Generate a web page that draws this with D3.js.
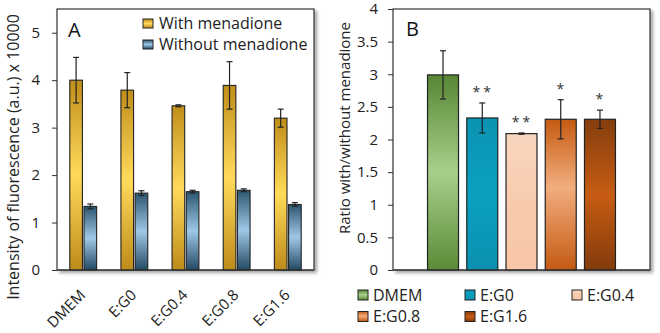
<!DOCTYPE html>
<html><head><meta charset="utf-8">
<script src="https://cdn.jsdelivr.net/npm/d3@7"></script>
<style>
html,body{margin:0;padding:0;background:#fff;}
svg{display:block;font-family:"Open Sans",sans-serif;}
</style></head>
<body><svg id="c" width="660" height="333"></svg>
<script>
// ---------- data ----------
const categories = ["DMEM","E:G0","E:G0.4","E:G0.8","E:G1.6"];
const seriesNames = ["With menadione","Without menadione"];
const withMenadione = [4.0, 3.79, 3.46, 3.89, 3.2];
const withMenadioneErr = [0.48, 0.37, 0.02, 0.5, 0.19];
const withoutMenadione = [1.34, 1.62, 1.65, 1.68, 1.38];
const withoutMenadioneErr = [0.05, 0.05, 0.03, 0.03, 0.04];
const ratio = [2.99, 2.33, 2.09, 2.31, 2.31];
const ratioErr = [0.37, 0.23, 0.01, 0.3, 0.14];
const significance = ["", "**", "**", "*", "*"];
const ticksA = [0,1,2,3,4,5];
const ticksB = [0,0.5,1,1.5,2,2.5,3,3.5,4];

const svg = d3.select("#c");
const defs = svg.append("defs");
function grad(id, stops){
  const g = defs.append("linearGradient").attr("id",id).attr("x1",0).attr("y1",0).attr("x2",0).attr("y2",1);
  stops.forEach(s=>g.append("stop").attr("offset",s[0]).attr("stop-color",s[1]));
}
grad("gGold",[[0,"#c08e1a"],[0.5,"#ffda5a"],[1,"#bd8b19"]]);
grad("gBlue",[[0,"#2c556f"],[0.5,"#9fc8e8"],[1,"#234a63"]]);
grad("gGreen",[[0,"#578634"],[0.5,"#a8d08c"],[1,"#5a8a37"]]);
grad("gTeal",[[0,"#0b93b3"],[0.5,"#0aa0c0"],[1,"#0b91b1"]]);
grad("gPeach",[[0,"#f9d6bf"],[0.5,"#f8cbad"],[1,"#f7c6a6"]]);
grad("gOrange",[[0,"#c55a11"],[0.45,"#f2ad7e"],[1,"#c45a12"]]);
grad("gBrown",[[0,"#843d0d"],[0.5,"#c75c13"],[1,"#823b0c"]]);
const f = defs.append("filter").attr("id","sh").attr("x","-10%").attr("y","-10%").attr("width","120%").attr("height","120%");
f.append("feDropShadow").attr("dx",2.5).attr("dy",2.5).attr("stdDeviation",1.8).attr("flood-color","#000").attr("flood-opacity",0.35);

const seriesFill = ["url(#gGold)","url(#gBlue)"];
const catFill = ["url(#gGreen)","url(#gTeal)","url(#gPeach)","url(#gOrange)","url(#gBrown)"];
const stroke = "#222";

// ---------- Panel A ----------
const A = {l:57, r:314, t:9, b:270};
svg.append("rect").attr("x",A.l).attr("y",A.t).attr("width",A.r-A.l).attr("height",A.b-A.t)
  .attr("fill","#fff").attr("stroke","#333").attr("stroke-width",1.2).attr("filter","url(#sh)");
const yA = d3.scaleLinear().domain([0,5.5]).range([A.b,A.t]);
const x0 = d3.scaleBand().domain(categories).range([A.l,A.r]).paddingInner(0.475).paddingOuter(0.25);
const x1 = d3.scaleBand().domain(seriesNames).range([0,x0.bandwidth()]).paddingInner(0.11);
const axA = svg.append("g").attr("transform",`translate(${A.l},0)`)
  .call(d3.axisLeft(yA).tickValues(ticksA).tickSize(5).tickPadding(12).tickFormat(d3.format("d")));
axA.select(".domain").remove();
axA.selectAll("line").attr("stroke","#333");
axA.selectAll("text").attr("font-size",15).attr("fill","#222").attr("font-family","Open Sans");

const dataA = [withMenadione, withoutMenadione];
const errA = [withMenadioneErr, withoutMenadioneErr];
seriesNames.forEach((s,si)=>{
  const g = svg.append("g");
  g.selectAll("rect").data(categories).join("rect")
    .attr("x",c=>x0(c)+x1(s)).attr("width",x1.bandwidth())
    .attr("y",(c,i)=>yA(dataA[si][i])).attr("height",(c,i)=>yA(0)-yA(dataA[si][i]))
    .attr("fill",seriesFill[si]).attr("stroke",stroke).attr("stroke-width",1.1);
  categories.forEach((c,i)=>{
    const cx = x0(c)+x1(s)+x1.bandwidth()/2;
    const hi = yA(dataA[si][i]+errA[si][i]), lo = yA(dataA[si][i]-errA[si][i]);
    g.append("line").attr("x1",cx).attr("x2",cx).attr("y1",hi).attr("y2",lo).attr("stroke","#222").attr("stroke-width",1.2);
    [hi,lo].forEach(y=>g.append("line").attr("x1",cx-3).attr("x2",cx+3).attr("y1",y).attr("y2",y).attr("stroke","#222").attr("stroke-width",1.2));
  });
});
// baseline
svg.append("line").attr("x1",A.l).attr("x2",A.r).attr("y1",A.b).attr("y2",A.b).attr("stroke","#333").attr("stroke-width",1.2);
// x labels
svg.append("g").selectAll("text").data(categories).join("text")
  .attr("transform",c=>`translate(${x0(c)+x0.bandwidth()/2+3},296) rotate(-45)`)
  .attr("text-anchor","end").attr("font-size",15).attr("fill","#222").text(c=>c);
// panel letter
svg.append("text").attr("x",68).attr("y",37).attr("font-size",20).attr("fill","#111").text("A");
// legend A
seriesNames.forEach((s,i)=>{
  const y = 19 + i*21;
  svg.append("rect").attr("x",143).attr("y",y).attr("width",10).attr("height",9).attr("fill",seriesFill[i]).attr("stroke",stroke).attr("stroke-width",1);
  svg.append("text").attr("x",159).attr("y",y+9.5).attr("font-size",16).attr("fill","#222").text(s);
});
// y title A
svg.append("text").attr("transform","translate(19,157) rotate(-90)").attr("text-anchor","middle")
  .attr("font-size",16).attr("fill","#222").text("Intensity of fluorescence (a.u.) x 10000");

// ---------- Panel B ----------
const B = {l:393, r:650, t:9, b:270};
svg.append("rect").attr("x",B.l).attr("y",B.t).attr("width",B.r-B.l).attr("height",B.b-B.t)
  .attr("fill","#fff").attr("stroke","#333").attr("stroke-width",1.2).attr("filter","url(#sh)");
const yB = d3.scaleLinear().domain([0,4]).range([B.b,B.t]);
const xB = d3.scaleBand().domain(categories).range([B.l,B.r]).paddingInner(0.21).paddingOuter(0.88);
const axB = svg.append("g").attr("transform",`translate(${B.l},0)`)
  .call(d3.axisLeft(yB).tickValues(ticksB).tickSize(5).tickPadding(10).tickFormat(d=>String(d)));
axB.select(".domain").remove();
axB.selectAll("line").attr("stroke","#333");
axB.selectAll("text").attr("font-size",15).attr("fill","#222").attr("font-family","Open Sans");
const gB = svg.append("g");
gB.selectAll("rect").data(categories).join("rect")
  .attr("x",c=>xB(c)).attr("width",xB.bandwidth())
  .attr("y",(c,i)=>yB(ratio[i])).attr("height",(c,i)=>yB(0)-yB(ratio[i]))
  .attr("fill",(c,i)=>catFill[i]).attr("stroke",stroke).attr("stroke-width",1.2);
categories.forEach((c,i)=>{
  const cx = xB(c)+xB.bandwidth()/2;
  const hi = yB(ratio[i]+ratioErr[i]), lo = yB(ratio[i]-ratioErr[i]);
  gB.append("line").attr("x1",cx).attr("x2",cx).attr("y1",hi).attr("y2",lo).attr("stroke","#222").attr("stroke-width",1.2);
  [hi,lo].forEach(y=>gB.append("line").attr("x1",cx-3).attr("x2",cx+3).attr("y1",y).attr("y2",y).attr("stroke","#222").attr("stroke-width",1.2));
  if(significance[i]) gB.append("text").attr("x",cx+1).attr("y",hi-6).attr("text-anchor","middle")
    .attr("font-size",14).attr("letter-spacing",3).attr("fill","#333").text(significance[i]);
});
svg.append("line").attr("x1",B.l).attr("x2",B.r).attr("y1",B.b).attr("y2",B.b).attr("stroke","#333").attr("stroke-width",1.2);
svg.append("text").attr("x",406).attr("y",36).attr("font-size",20).attr("fill","#111").text("B");
svg.append("text").attr("transform","translate(350,128) rotate(-90)").attr("text-anchor","middle")
  .attr("font-size",15).attr("fill","#222").text("Ratio with/without menadione");
// legend B
const legX = [358,465,572];
categories.forEach((c,i)=>{
  const col = i%3, row = Math.floor(i/3);
  const x = legX[col], y = 290 + row*21.5;
  svg.append("rect").attr("x",x).attr("y",y).attr("width",10).attr("height",10).attr("fill",catFill[i]).attr("stroke",stroke).attr("stroke-width",1);
  svg.append("text").attr("x",x+15).attr("y",y+10.5).attr("font-size",16).attr("fill","#222").text(c);
});
</script></body></html>
